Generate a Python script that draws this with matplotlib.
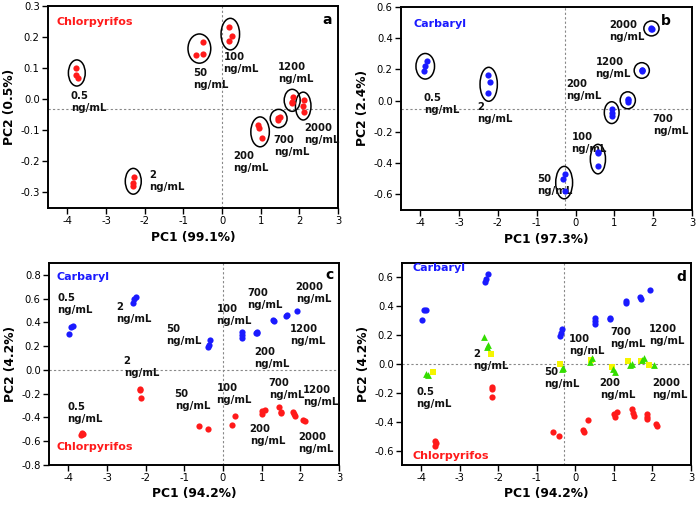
import numpy as np
import matplotlib
matplotlib.use('Agg')
from matplotlib import pyplot as plt
from matplotlib.patches import Ellipse

plt.rcParams['font.family'] = ['DejaVu Sans']
plt.rcParams['axes.unicode_minus'] = False

RED = '#ff1a1a'
BLUE = '#1a1aff'
GREEN = '#33dd00'
YELLOW = '#f5f500'

conc = ['0.5', '2', '50', '100', '200', '700', '1200', '2000']

# panel a: chlorpyrifos only, 3 replicates per concentration
a_x = [[-3.77, -3.78, -3.73], [-2.28, -2.30, -2.31], [-0.68, -0.49, -0.50],
       [0.18, 0.26, 0.17], [0.94, 0.95, 1.03], [1.44, 1.49, 1.46],
       [1.83, 1.81, 1.80], [2.11, 2.09, 2.11]]
a_y = [[0.100, 0.079, 0.069], [-0.249, -0.268, -0.279], [0.143, 0.183, 0.147],
       [0.233, 0.204, 0.186], [-0.084, -0.091, -0.126], [-0.062, -0.058, -0.066],
       [0.006, -0.008, -0.013], [-0.004, -0.021, -0.040]]

# panel b: carbaryl only
b_x = [[-3.83, -3.87, -3.92], [-2.27, -2.21, -2.27], [-0.28, -0.32, -0.27],
       [0.57, 0.58, 0.57], [0.93, 0.93, 0.93], [1.34, 1.35, 1.34],
       [1.70, 1.71, 1.71], [1.95, 1.96, 1.95]]
b_y = [[0.254, 0.219, 0.187], [0.163, 0.120, 0.047], [-0.471, -0.503, -0.578],
       [-0.329, -0.419, -0.333], [-0.054, -0.077, -0.099], [0.011, -0.006, 0.002],
       [0.198, 0.194, 0.189], [0.465, 0.460, 0.462]]

# panel c: both pesticides
c_carb_x = [-3.98, -3.92, -3.87, -2.32, -2.30, -2.26, -0.38, -0.35, -0.33,
            0.50, 0.49, 0.50, 0.85, 0.87, 0.87, 1.30, 1.32, 1.64, 1.66, 1.92]
c_carb_y = [0.303, 0.359, 0.371, 0.567, 0.595, 0.618, 0.19, 0.21, 0.25,
            0.32, 0.29, 0.27, 0.314, 0.32, 0.31, 0.42, 0.415, 0.455, 0.46, 0.50]
c_chl_x = [-3.65, -3.67, -3.63, -2.15, -2.14, -2.12, -0.61, -0.40,
           0.22, 0.31, 1.00, 1.01, 1.08, 1.45, 1.50, 1.51,
           1.82, 1.83, 1.85, 2.08, 2.11]
c_chl_y = [-0.53, -0.55, -0.54, -0.163, -0.171, -0.239, -0.47, -0.50,
           -0.463, -0.387, -0.345, -0.37, -0.337, -0.314, -0.35, -0.365,
           -0.35, -0.373, -0.385, -0.42, -0.432]

# panel d: both pesticides plus mixtures
d_carb_x = [-3.99, -3.93, -3.88, -2.32, -2.27, -2.34, -0.39, -0.34, -0.37,
            0.51, 0.51, 0.50, 0.89, 0.89, 1.31, 1.31, 1.68, 1.70, 1.94]
d_carb_y = [0.306, 0.371, 0.376, 0.587, 0.622, 0.568, 0.197, 0.246, 0.216,
            0.32, 0.296, 0.274, 0.32, 0.31, 0.425, 0.436, 0.464, 0.452, 0.51]
d_chl_x = [-3.65, -3.63, -3.65, -2.17, -2.16, -2.16, -0.59, -0.42,
           0.21, 0.23, 0.32, 1.00, 1.02, 1.07, 1.48, 1.50, 1.52,
           1.85, 1.87, 1.86, 2.09, 2.13]
d_chl_y = [-0.534, -0.55, -0.566, -0.162, -0.172, -0.232, -0.471, -0.499,
           -0.457, -0.471, -0.387, -0.346, -0.369, -0.334, -0.311, -0.341, -0.357,
           -0.348, -0.364, -0.38, -0.418, -0.429]
d_tri_x = [-3.89, -3.83, -2.37, -2.26, -2.30, -0.36, -0.32, 0.42, 0.38,
           0.98, 1.04, 1.42, 1.46, 1.77, 1.74, 2.03]
d_tri_y = [-0.067, -0.077, 0.188, 0.13, 0.116, -0.035, -0.028, 0.039, 0.012,
           -0.035, -0.056, -0.005, 0.002, 0.039, 0.026, -0.005]
d_sq_x = [-3.69, -2.19, -0.39, 0.40, 0.95, 1.37, 1.70, 1.90]
d_sq_y = [-0.056, 0.072, -0.002, 0.03, -0.023, 0.023, 0.019, -0.009]

# label anchors (upper-left of text) for each concentration
a_lab = [(-3.91, 0.025), (-1.89, -0.227), (-0.74, 0.10), (0.04, 0.153),
         (0.29, -0.168), (1.34, -0.115), (1.44, 0.121), (2.12, -0.075)]
b_lab = [(-3.91, 0.05), (-2.53, -0.009), (-1.0, -0.471), (-0.11, -0.202),
         (-0.25, 0.138), (1.99, -0.088), (0.51, 0.28), (0.87, 0.514)]
c_lab_carb = [(-4.28, 0.646), (-2.77, 0.575), (-1.47, 0.387), (-0.17, 0.553),
              (0.80, 0.196), (0.63, 0.688), (1.73, 0.387), (1.88, 0.744)]
c_lab_chl = [(-4.02, -0.267), (-2.57, 0.118), (-1.25, -0.163), (-0.17, -0.112),
             (0.69, -0.455), (1.18, -0.07), (2.06, -0.126), (1.94, -0.519)]
d_lab = [(-4.13, -0.16), (-2.65, 0.104), (-0.80, -0.02), (-0.17, 0.211),
         (0.63, -0.097), (0.90, 0.258), (1.91, 0.28), (2.00, -0.097)]


def lab(ax, x, y, c, ha='left'):
    ax.text(x, y, f"{c}\nng/mL", fontsize=7.3, fontweight='bold', ha=ha, va='top',
            linespacing=1.25, color='#111111')


def style(ax, xlim, ylim, yticks, xlabel, ylabel, vline, hline, yfmt):
    ax.set_xlim(*xlim)
    ax.set_ylim(*ylim)
    ax.set_xticks(range(-4, 4))
    ax.set_yticks(yticks)
    ax.set_yticklabels([yfmt % v for v in yticks])
    ax.tick_params(labelsize=7.2, length=4, width=1.0, direction='out', pad=2)
    for s in ax.spines.values():
        s.set_linewidth(1.4)
    ax.set_xlabel(xlabel, fontsize=8.8, fontweight='bold', labelpad=3)
    ax.set_ylabel(ylabel, fontsize=8.8, fontweight='bold', labelpad=3)
    ax.axvline(vline, color='#888888', lw=0.8, ls=(0, (2, 2)), zorder=0)
    ax.axhline(hline, color='#888888', lw=0.8, ls=(0, (2, 2)), zorder=0)


def circle(ax, xs, ys, wpad, hpad):
    xs = np.array(xs)
    ys = np.array(ys)
    cx = (xs.max() + xs.min()) / 2
    cy = (ys.max() + ys.min()) / 2
    w = np.ptp(xs) * 1.1 + wpad
    h = np.ptp(ys) * 1.1 + hpad
    ax.add_patch(Ellipse((cx, cy), w, h, fill=False, ec='black', lw=1.1, zorder=3))


W, H = 697, 507
fig = plt.figure(figsize=(W / 100, H / 100), dpi=100)
fig.set_facecolor('white')


def box(l, r, t, b):
    return [l / W, 1 - b / H, (r - l) / W, (b - t) / H]


ax_a = fig.add_axes(box(48, 338, 6, 208))
ax_b = fig.add_axes(box(401, 692, 7, 210))
ax_c = fig.add_axes(box(49, 339, 263, 465))
ax_d = fig.add_axes(box(402, 691, 263, 465))

ms = 20

# --- a ---
style(ax_a, (-4.5, 3), (-0.35, 0.3), [-0.3, -0.2, -0.1, 0.0, 0.1, 0.2, 0.3],
      'PC1 (99.1%)', 'PC2 (0.5%)', 0, -0.03, '%.1f')
for i, c in enumerate(conc):
    ax_a.scatter(a_x[i], a_y[i], s=ms, color=RED, lw=0, zorder=4)
    circle(ax_a, a_x[i], a_y[i], 0.38, 0.05)
    lab(ax_a, *a_lab[i], c)
ax_a.text(-4.29, 0.25, 'Chlorpyrifos', color=RED, fontsize=8, fontweight='bold', va='center')
ax_a.text(2.85, 0.255, 'a', fontsize=10, fontweight='bold', ha='right', va='center')

# --- b ---
style(ax_b, (-4.5, 2.5), (-0.7, 0.6), [-0.6, -0.4, -0.2, 0.0, 0.2, 0.4, 0.6],
      'PC1 (97.3%)', 'PC2 (2.4%)', -0.28, -0.05, '%.1f')
for i, c in enumerate(conc):
    ax_b.scatter(b_x[i], b_y[i], s=ms, color=BLUE, lw=0, zorder=4)
    circle(ax_b, b_x[i], b_y[i], 0.38, 0.09)
    lab(ax_b, *b_lab[i], c)
ax_b.text(-4.18, 0.49, 'Carbaryl', color=BLUE, fontsize=8, fontweight='bold', va='center')
ax_b.text(2.45, 0.51, 'b', fontsize=10, fontweight='bold', ha='right', va='center')

# --- c ---
style(ax_c, (-4.5, 3), (-0.8, 0.9), [-0.8, -0.6, -0.4, -0.2, 0.0, 0.2, 0.4, 0.6, 0.8],
      'PC1 (94.2%)', 'PC2 (4.2%)', 0, 0, '%.1f')
ax_c.scatter(c_carb_x, c_carb_y, s=ms, color=BLUE, lw=0, zorder=4)
ax_c.scatter(c_chl_x, c_chl_y, s=ms, color=RED, lw=0, zorder=4)
for i, c in enumerate(conc):
    lab(ax_c, *c_lab_carb[i], c)
    lab(ax_c, *c_lab_chl[i], c)
ax_c.text(-4.3, 0.786, 'Carbaryl', color=BLUE, fontsize=8, fontweight='bold', va='center')
ax_c.text(-4.3, -0.646, 'Chlorpyrifos', color=RED, fontsize=8, fontweight='bold', va='center')
ax_c.text(2.85, 0.8, 'c', fontsize=10, fontweight='bold', ha='right', va='center')

# --- d ---
style(ax_d, (-4.5, 3), (-0.7, 0.7), [-0.6, -0.4, -0.2, 0.0, 0.2, 0.4, 0.6],
      'PC1 (94.2%)', 'PC2 (4.2%)', -0.3, 0, '%.1f')
ax_d.scatter(d_carb_x, d_carb_y, s=ms, color=BLUE, lw=0, zorder=4)
ax_d.scatter(d_chl_x, d_chl_y, s=ms, color=RED, lw=0, zorder=4)
ax_d.scatter(d_sq_x, d_sq_y, s=18, marker='s', color=YELLOW, lw=0, zorder=4)
ax_d.scatter(d_tri_x, d_tri_y, s=24, marker='^', color=GREEN, lw=0, zorder=5)
for i, c in enumerate(conc):
    lab(ax_d, *d_lab[i], c)
ax_d.text(-4.23, 0.664, 'Carbaryl', color=BLUE, fontsize=8, fontweight='bold', va='center')
ax_d.text(-4.23, -0.638, 'Chlorpyrifos', color=RED, fontsize=8, fontweight='bold', va='center')
ax_d.text(2.87, 0.6, 'd', fontsize=10, fontweight='bold', ha='right', va='center')

fig.savefig('out.png', dpi=100, facecolor=fig.get_facecolor())
